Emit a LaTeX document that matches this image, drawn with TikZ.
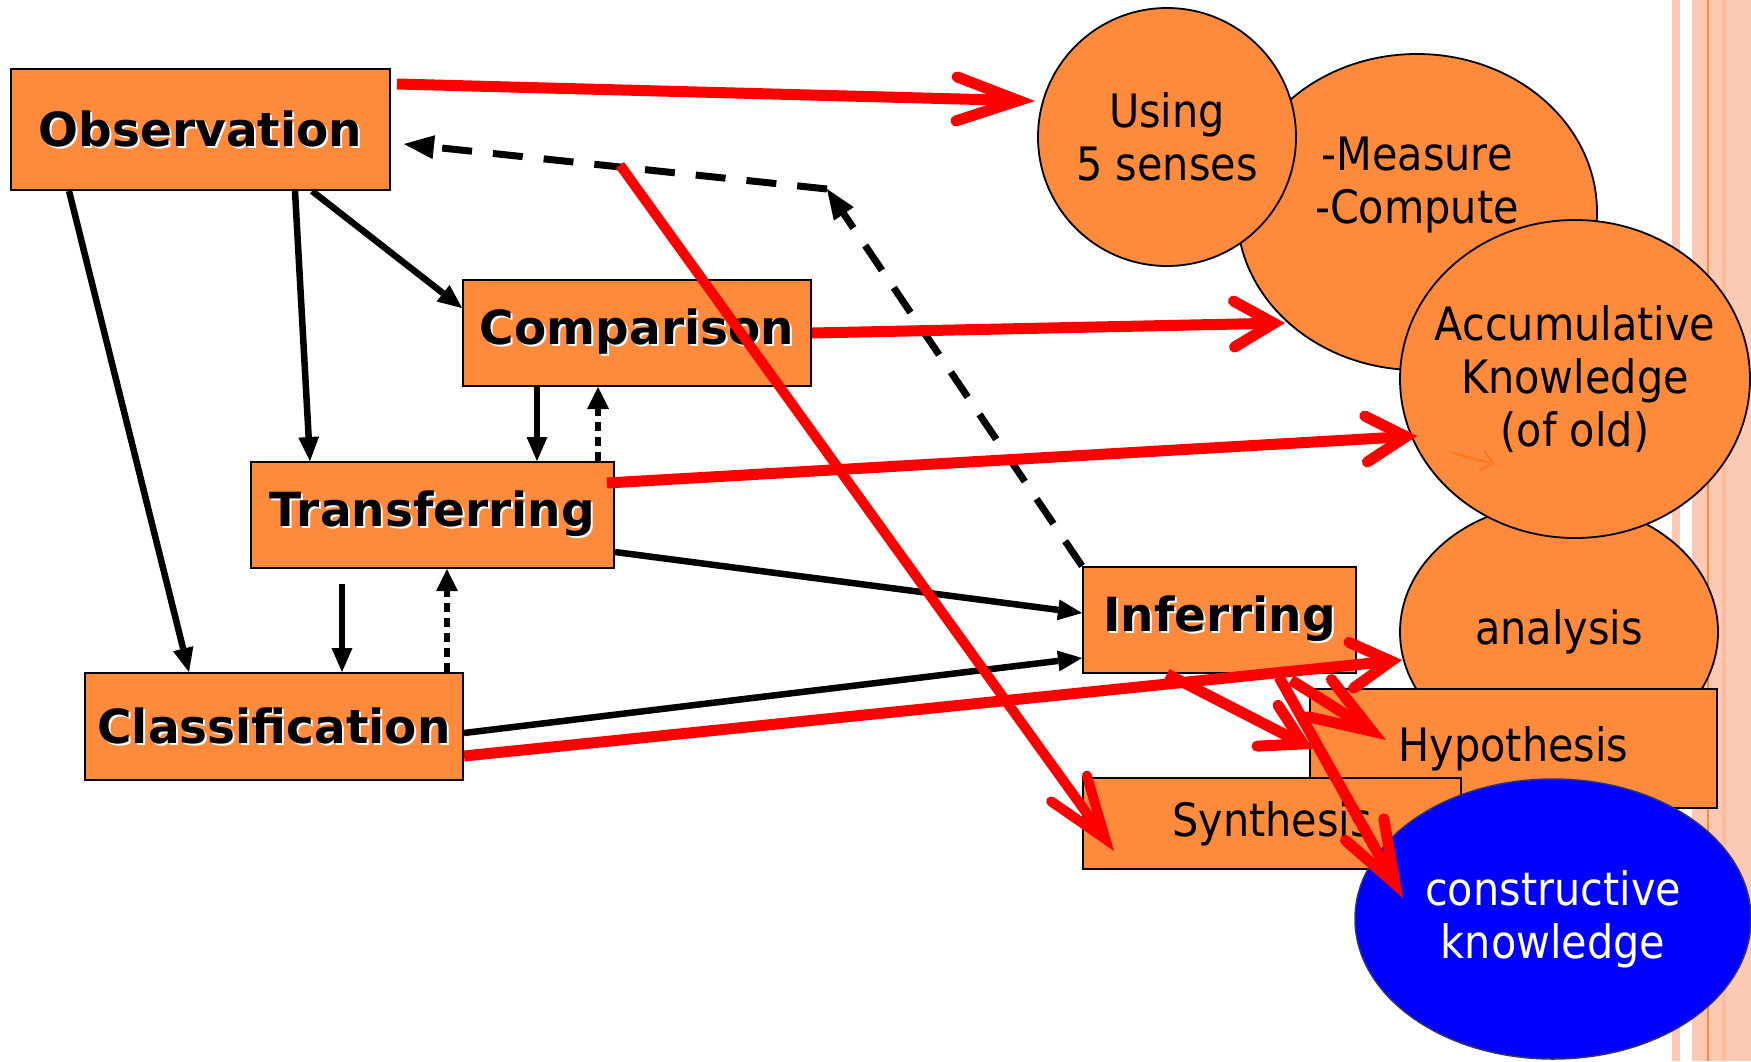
\documentclass[tikz,border=0pt]{standalone}
\usepackage{fontspec}
\setmainfont{DejaVu Sans}
\newfontfamily\cfont[FakeStretch=0.9]{DejaVu Sans}
\usetikzlibrary{arrows.meta,shapes.geometric,calc}
\definecolor{orfill}{RGB}{254,138,59}
\definecolor{pinkstrip}{RGB}{252,201,180}
\definecolor{pinkdark}{RGB}{253,187,158}
\definecolor{orline}{RGB}{253,138,58}
\definecolor{arred}{RGB}{255,0,0}
\definecolor{ckblue}{RGB}{0,0,255}
\definecolor{ckedge}{RGB}{50,50,110}
\definecolor{tinyor}{RGB}{255,118,30}
\newcommand\shtext[1]{\makebox[0pt][l]{\kern2pt\raisebox{-2pt}{\textcolor{white}{#1}}}#1}
\begin{document}
\begin{tikzpicture}[x=1pt,y=-1pt,
  box/.style={draw=black, line width=2pt, fill=orfill, rectangle, inner sep=0pt},
  boldlbl/.style={font=\fontsize{47}{56}\selectfont\bfseries},
  reglbl/.style={font=\cfont\fontsize{46}{53}\selectfont},
  ell/.style={draw=black, line width=1.8pt, fill=orfill, ellipse, inner sep=0pt},
  etxt/.style={font=\cfont\fontsize{46}{53}\selectfont, align=center, inner sep=0pt},
  blk/.style={line width=6.5pt, -{Triangle[length=24pt,width=21pt,line width=0pt]}},
  dotd/.style={line width=6.5pt, dash pattern=on 9pt off 6pt, -{Triangle[length=22pt,width=22pt,line width=0pt]}},
  dsh/.style={line width=7pt, dash pattern=on 30pt off 21pt, -{Triangle[length=30pt,width=24pt,line width=0pt]}},
  redL/.style={draw=arred, line width=11pt, -{Straight Barb[length=62pt,width=44pt,line cap=round,line join=miter]}},
  redS/.style={draw=arred, line width=11pt, -{Straight Barb[length=40pt,width=46pt,line cap=round,line join=miter]}},
]
\useasboundingbox (0,0) rectangle (1751,1061);
% background strips
\fill[pinkstrip] (1672,0) rectangle (1680,1061);
\fill[pinkstrip] (1692,0) rectangle (1751,1061);
\fill[pinkdark] (1722,0) rectangle (1726,1061);
\fill[orline] (1707,0) rectangle (1709,1061);

% ellipses
\node[ell, minimum width=360pt, minimum height=316pt] (meas) at (1417,212) {};
\node[etxt] (meastxt) at ([shift={(0,-27)}]meas.center) {-Measure\\-Compute};
\node[ell, minimum width=258pt, minimum height=258pt] (use) at (1167,137) {};
\node[etxt] (usetxt) at (use.center) {Using\\5 senses};
\node[ell, minimum width=318pt, minimum height=258pt] (ana) at (1559,632) {};
\node[etxt] (anatxt) at (ana.center) {analysis};
\node[ell, minimum width=350pt, minimum height=318pt] (acc) at (1575,379) {};
\node[etxt] (acctxt) at (acc.center) {Accumulative\\Knowledge\\(of old)};
\draw[tinyor, line width=2pt, -{Straight Barb[length=12pt,width=20pt]}] ([shift={(-123,74)}]acc.center) -- ([shift={(-80,85)}]acc.center);

\node[box, reglbl, minimum width=407pt, minimum height=119pt] (hyp) at (1513.5,748.5) {Hypothesis};
\node[box, reglbl, minimum width=378pt, minimum height=91pt] (syn) at (1272,823.5) {Synthesis};
\node[draw=ckedge, line width=1.5pt, fill=ckblue, ellipse, inner sep=0pt, minimum width=396pt, minimum height=280pt] (ck) at (1553,919) {};
\node[etxt, text=white] (cktxt) at (ck.center) {constructive\\knowledge};

% left boxes
\node[box, boldlbl, minimum width=379pt, minimum height=121pt] (obs) at (200.5,129.5) {\shtext{Observation}};
\node[box, boldlbl, minimum width=348pt, minimum height=106pt] (cmp) at (637,333) {\shtext{Comparison}};
\node[box, boldlbl, minimum width=363pt, minimum height=106pt] (trn) at (432.5,515) {\shtext{Transferring}};
\node[box, boldlbl, minimum width=378pt, minimum height=107pt] (cls) at (274,726.5) {\shtext{Classification}};
\node[box, boldlbl, minimum width=273pt, minimum height=106pt] (inf) at (1219.5,620) {\shtext{Inferring}};

% black connectors
\draw[blk] ([xshift=59pt]obs.south west) -- ([xshift=105pt]cls.north west);
\draw[blk] ([xshift=285pt]obs.south west) -- ([xshift=60pt]trn.north west);
\draw[blk] ([xshift=302pt]obs.south west) -- ([shift={(0,29)}]cmp.north west);
\draw[blk] ([xshift=75pt]cmp.south west) -- ([xshift=287pt]trn.north west);
\draw[dotd] ([xshift=348pt]trn.north west) -- ([xshift=136pt]cmp.south west);
\draw[blk] ([shift={(92,15)}]trn.south west) -- ([xshift=258pt]cls.north west);
\draw[dotd] ([xshift=363pt]cls.north west) -- ([xshift=197pt]trn.south west);
\draw[blk] ([shift={(0,-17)}]trn.south east) -- ([shift={(0,-7)}]inf.west);
\draw[blk] ([shift={(0,6.5)}]cls.east) -- ([shift={(0,-16)}]inf.south west);

% dashed feedback
\coordinate (cor) at (827,189);
\draw[dsh] (inf.north west) -- (cor);
\draw[dsh] (cor) -- ([shift={(13,14.5)}]obs.east);

% red arrows
\draw[redL] ([shift={(6,16)}]obs.north east) -- ([shift={(-132,-36)}]use.center);
\draw[redS] (cmp.east) -- ([shift={(-132,111)}]meas.center);
\draw[redS] ([shift={(-8,22)}]trn.north east) -- ([shift={(-158,57)}]acc.center);
\draw[redS] ([shift={(0,29.5)}]cls.east) -- ([shift={(-157,28)}]ana.center);
\coordinate (r5s) at (620,165);
\draw[redL, line width=10pt] (r5s) -- ([shift={(32,74)}]syn.north west);
\draw[redS] ([xshift=-52.5pt]inf.south) -- ([shift={(4,0.5)}]hyp.west);
\draw[redL] ([shift={(59.5,3)}]inf.south) -- ([shift={(-150,-21)}]ck.center);
\draw[redL] ([shift={(71.5,6)}]inf.south) -- ([shift={(77,-8.5)}]hyp.west);
\end{tikzpicture}
\end{document}
